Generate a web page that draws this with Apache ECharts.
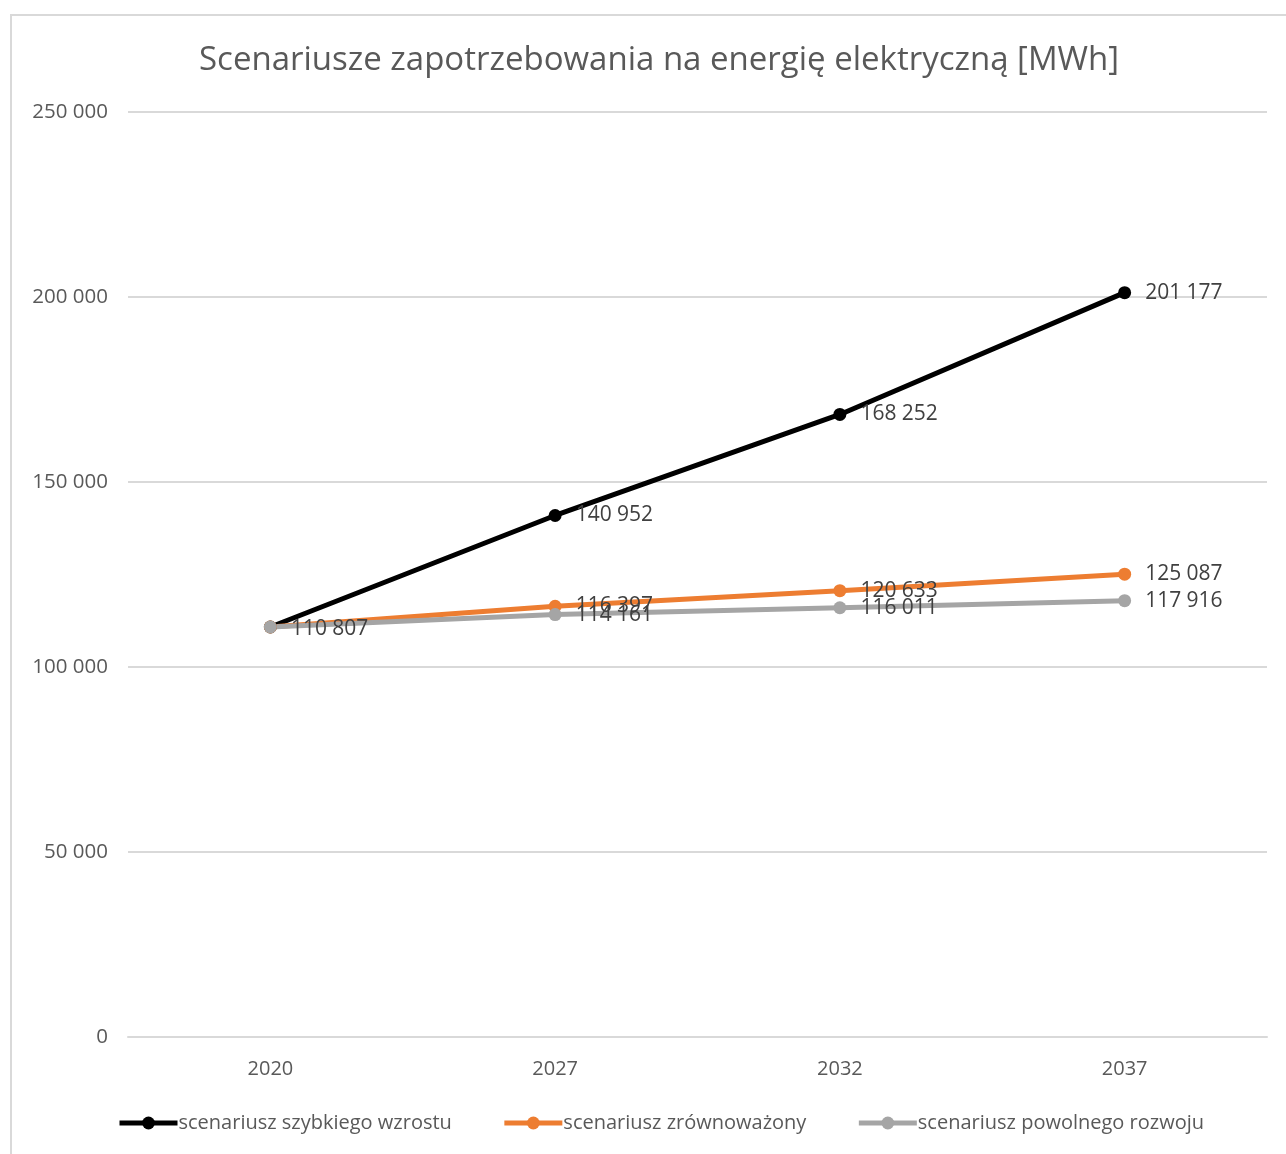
<!DOCTYPE html>
<html>
<head>
<meta charset="utf-8">
<script src="https://cdn.jsdelivr.net/npm/echarts@6/dist/echarts.min.js"></script>
<style>
  html, body { margin: 0; padding: 0; background: #fff; }
  #frame { position: absolute; left: 10px; top: 14px; width: 1290px; height: 1150px; border: 2px solid #d9d9d9; box-sizing: border-box; }
  #chart { position: absolute; left: 0; top: 0; width: 1286px; height: 1154px; }
</style>
</head>
<body>
<div id="frame"></div>
<div id="chart"></div>
<script>
const years = ["2020", "2027", "2032", "2037"];
const fastGrowth = [110807, 140952, 168252, 201177];
const balanced = [110807, 116397, 120633, 125087];
const slowGrowth = [110807, 114161, 116011, 117916];
const seriesNames = ["scenariusz szybkiego wzrostu", "scenariusz zrównoważony", "scenariusz powolnego rozwoju"];
const colors = ["#000000", "#ed7d31", "#a5a5a5"];

const fontFamily = "'Open Sans', 'Noto Sans', sans-serif";

function fmt(v) {
  return String(v).replace(/\B(?=(\d{3})+(?!\d))/g, " ");
}

function lineSeries(name, data, color, showFirst) {
  return {
    name: name,
    type: "line",
    data: data,
    symbol: "circle",
    symbolSize: 13,
    itemStyle: { color: color },
    lineStyle: { width: 5, color: color },
    label: {
      show: true,
      position: "right",
      distance: 14,
      color: "#404040",
      fontSize: 21,
      fontFamily: fontFamily,
      formatter: function (p) {
        if (p.dataIndex === 0 && !showFirst) return "";
        return fmt(p.value);
      }
    },
    labelLayout: function (p) {
      return p.dataIndex === 0 ? { dy: 2 } : {};
    }
  };
}

const chart = echarts.init(document.getElementById("chart"));
chart.setOption({
  backgroundColor: "transparent",
  animation: false,
  title: {
    text: "Scenariusze zapotrzebowania na energię elektryczną [MWh]",
    left: 194,
    top: 39,
    textStyle: { color: "#595959", fontSize: 33, fontWeight: "normal", fontFamily: fontFamily }
  },
  legend: {
    bottom: 16,
    left: 112,
    itemGap: 50,
    itemWidth: 58,
    itemHeight: 16,
    lineStyle: { width: 5 },
    textStyle: { color: "#595959", fontSize: 20, fontFamily: fontFamily, padding: [0, 0, 0, -4] },
    data: seriesNames
  },
  grid: { left: 128, right: 19, top: 112, bottom: 117, containLabel: false },
  xAxis: {
    type: "category",
    data: years,
    boundaryGap: true,
    axisLine: { lineStyle: { color: "#d9d9d9", width: 2 } },
    axisTick: { show: false },
    axisLabel: { color: "#595959", fontSize: 20, fontFamily: fontFamily, margin: 22 }
  },
  yAxis: {
    type: "value",
    min: 0,
    max: 250000,
    interval: 50000,
    axisLine: { show: false },
    axisTick: { show: false },
    splitLine: { lineStyle: { color: "#d9d9d9", width: 2 } },
    axisLabel: { color: "#595959", fontSize: 20.5, fontFamily: fontFamily, margin: 20, formatter: fmt }
  },
  series: [
    lineSeries(seriesNames[0], fastGrowth, colors[0], false),
    lineSeries(seriesNames[1], balanced, colors[1], false),
    lineSeries(seriesNames[2], slowGrowth, colors[2], true)
  ]
});
</script>
</body>
</html>
